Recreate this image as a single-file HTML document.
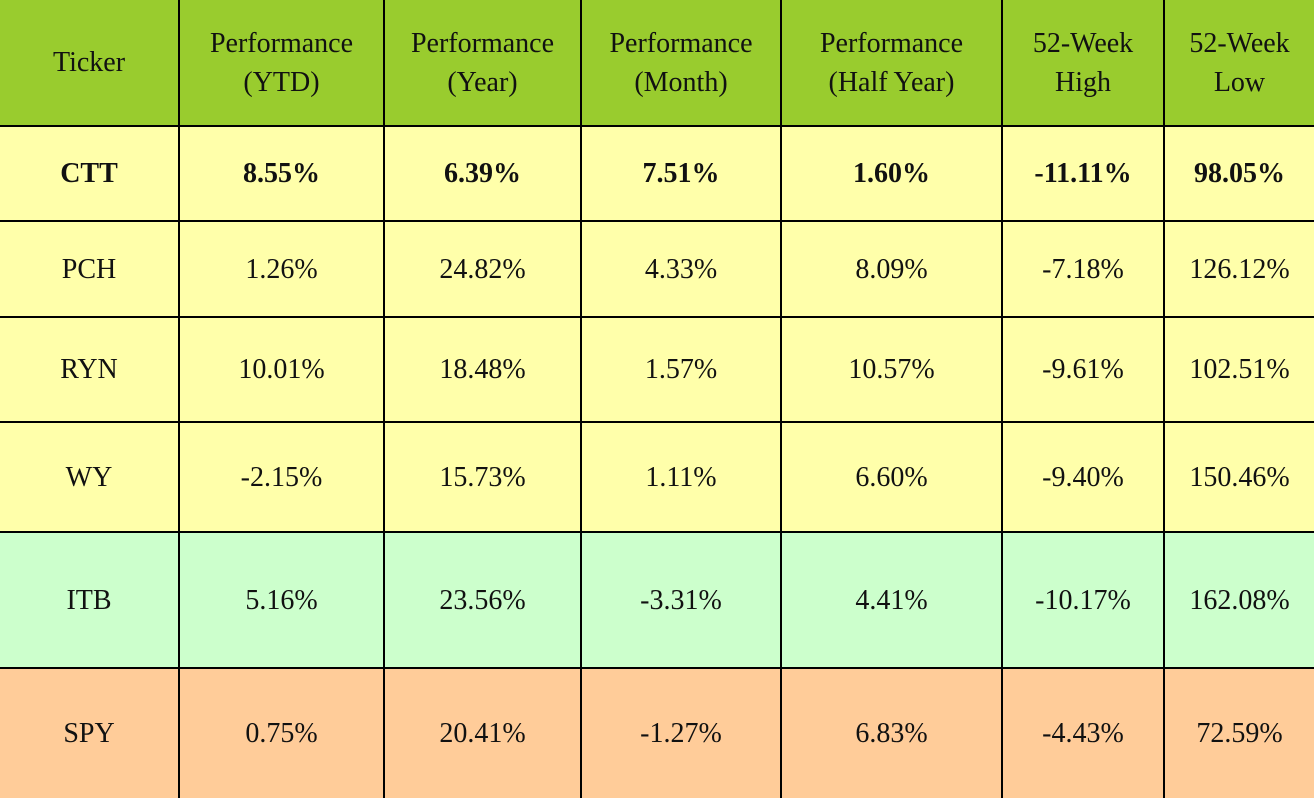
<!DOCTYPE html>
<html><head><meta charset="utf-8"><style>
html,body{margin:0;padding:0;background:#fff}
#t{position:relative;width:1314px;height:798px;overflow:hidden;font-family:"Liberation Serif",serif;font-size:28px;color:#111}
.c{position:absolute;display:flex;align-items:center;justify-content:center;text-align:center;line-height:39px;box-sizing:border-box;border-right:2px solid #000;border-bottom:2px solid #000}
.b{font-weight:bold}
</style></head><body>
<div id="t"></div>
<script>
const colEdges=[0,180,385,582,782,1003,1165,1316];
const rowEdges=[0,127,222,318,423,533,669,800];
const headers=["Ticker","Performance<br>(YTD)","Performance<br>(Year)","Performance<br>(Month)","Performance<br>(Half Year)","52-Week<br>High","52-Week<br>Low"];
const tickers=["CTT","PCH","RYN","WY","ITB","SPY"];
const ytd=["8.55%","1.26%","10.01%","-2.15%","5.16%","0.75%"];
const year=["6.39%","24.82%","18.48%","15.73%","23.56%","20.41%"];
const month=["7.51%","4.33%","1.57%","1.11%","-3.31%","-1.27%"];
const half=["1.60%","8.09%","10.57%","6.60%","4.41%","6.83%"];
const high=["-11.11%","-7.18%","-9.61%","-9.40%","-10.17%","-4.43%"];
const low=["98.05%","126.12%","102.51%","150.46%","162.08%","72.59%"];
const rowColors=["#ffffaa","#ffffaa","#ffffaa","#ffffaa","#ccffcc","#ffcc99"];
const t=document.getElementById('t');
function cell(r,c,html,bg,bold){
  const d=document.createElement('div');
  d.className='c'+(bold?' b':'');
  d.style.left=colEdges[c]+'px';d.style.top=rowEdges[r]+'px';
  d.style.width=(colEdges[c+1]-colEdges[c])+'px';d.style.height=(rowEdges[r+1]-rowEdges[r])+'px';
  d.style.background=bg;d.innerHTML=html;
  
  
  t.appendChild(d);
}
headers.forEach((h,c)=>cell(0,c,h,'#99cc2e',false));
const cols=[tickers,ytd,year,month,half,high,low];
tickers.forEach((_,i)=>{cols.forEach((col,c)=>cell(i+1,c,col[i],rowColors[i],i===0));});
</script>
</body></html>
